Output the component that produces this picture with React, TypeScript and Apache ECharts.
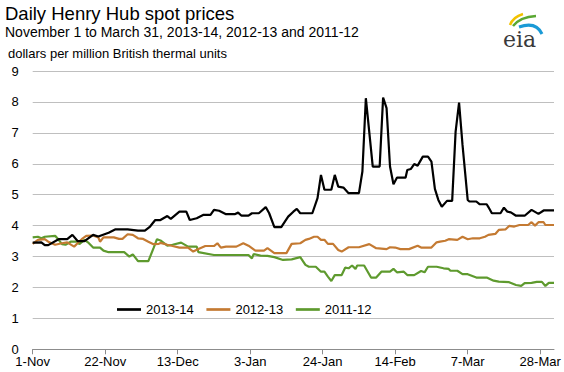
import React, { useEffect, useRef } from "react";
import * as echarts from "echarts";

// Day index since 1-Nov, price in $/MMBtu
const prices201314: [number, number][] = [
  [0, 3.45], [2.5, 3.46], [3.5, 3.37], [4.5, 3.37], [7.5, 3.56], [10, 3.56], [11.5, 3.7], [13, 3.5],
  [15, 3.5], [17.5, 3.7], [19, 3.65], [22, 3.77], [24, 3.88], [27.5, 3.88], [30.5, 3.84], [32.5, 3.84],
  [34, 3.97], [35.5, 4.18], [37, 4.18], [39, 4.31], [40, 4.22], [42.5, 4.45], [44.5, 4.45], [45.5, 4.18],
  [47.5, 4.24], [49.5, 4.35], [51.5, 4.35], [52.5, 4.51], [54, 4.48], [56, 4.37], [58.5, 4.37], [59.5, 4.42],
  [60.5, 4.32], [62.5, 4.32], [63.5, 4.4], [65.5, 4.4], [67.5, 4.6], [68.5, 4.4], [70, 3.95], [72, 3.95],
  [74, 4.29], [75.5, 4.45], [76.5, 4.54], [77.5, 4.4], [81, 4.4], [82.5, 4.89], [83.5, 5.64], [84.5, 5.16],
  [86.5, 5.16], [87.5, 5.64], [88.5, 5.26], [90, 5.23], [91.5, 5.05], [94.5, 5.05], [95.5, 5.75], [96.5, 8.12],
  [98.5, 5.91], [100.5, 5.91], [101.5, 8.14], [102.5, 7.8], [103.5, 5.91], [104.5, 5.34], [105.5, 5.55], [108, 5.55],
  [108.5, 5.8], [109.5, 5.83], [110.5, 5.99], [111.5, 5.94], [113, 6.23], [114.5, 6.23], [115.5, 6.07], [116.5, 5.19],
  [117.5, 4.83], [118.5, 4.61], [120, 4.8], [121.5, 4.8], [122.5, 7.04], [123.5, 7.98], [124.5, 6.61], [126, 4.83],
  [126.5, 4.78], [128.5, 4.78], [129.5, 4.69], [131.5, 4.69], [132, 4.6], [133, 4.4], [135.5, 4.4], [136.5, 4.58],
  [137.5, 4.45], [138.5, 4.43], [140, 4.32], [142.5, 4.32], [144.5, 4.51], [146.5, 4.38], [148, 4.49], [151, 4.49],
];

const prices201213: [number, number][] = [
  [0, 3.41], [1.5, 3.54], [3.5, 3.56], [4.5, 3.48], [6.5, 3.38], [8.5, 3.43], [10, 3.46], [12, 3.32],
  [13, 3.43], [14.5, 3.59], [15.5, 3.67], [17.5, 3.68], [19, 3.62], [19.5, 3.48], [20.5, 3.62], [23.5, 3.62],
  [25, 3.57], [26, 3.57], [27.5, 3.72], [29, 3.7], [30.5, 3.59], [32, 3.57], [33.5, 3.48], [35, 3.4],
  [36.5, 3.41], [37, 3.44], [39, 3.38], [40.5, 3.34], [42.5, 3.29], [45, 3.29], [46.5, 3.16], [48, 3.24],
  [50, 3.34], [52.5, 3.34], [53.5, 3.43], [54.5, 3.29], [56, 3.32], [59, 3.32], [61, 3.43], [62.5, 3.35],
  [64.5, 3.19], [67, 3.19], [68, 3.27], [70, 3.11], [73.5, 3.11], [75, 3.41], [77.5, 3.43], [79, 3.54],
  [80, 3.57], [81.5, 3.64], [82.5, 3.64], [83.5, 3.54], [84.5, 3.54], [85.5, 3.41], [87, 3.41], [88.5, 3.21],
  [89.5, 3.16], [91.5, 3.3], [94.5, 3.3], [97.5, 3.4], [99.5, 3.27], [102.5, 3.24], [103.5, 3.3], [105, 3.29],
  [106.5, 3.24], [109, 3.24], [111.5, 3.35], [112.5, 3.29], [115.5, 3.29], [117, 3.46], [118, 3.48], [119.5, 3.51],
  [120.5, 3.56], [123, 3.54], [124.5, 3.64], [126, 3.56], [127.5, 3.59], [129.5, 3.59], [131, 3.64], [132, 3.7],
  [134, 3.73], [135, 3.86], [137, 3.88], [138, 3.99], [139.5, 3.97], [141, 4.02], [143.5, 4.02], [144.5, 4.11],
  [145.5, 4.0], [146.5, 4.11], [148, 4.11], [148.5, 4.02], [151, 4.02],
];

const prices201112: [number, number][] = [
  [0, 3.62], [1.5, 3.64], [2.5, 3.59], [3.5, 3.64], [6.5, 3.67], [7.5, 3.54], [8.5, 3.4], [9.5, 3.38],
  [11, 3.48], [13, 3.48], [13.5, 3.4], [15, 3.54], [16, 3.46], [17.5, 3.29], [19.5, 3.29], [20.5, 3.19],
  [22, 3.14], [26.5, 3.14], [28, 3.0], [29, 3.07], [30.5, 2.85], [33.5, 2.85], [35, 3.27], [36, 3.56],
  [37, 3.52], [39, 3.35], [40.5, 3.38], [43, 3.45], [45, 3.32], [47.5, 3.32], [48, 3.14], [52.5, 3.05],
  [59, 3.05], [62.5, 3.05], [63.5, 2.94], [64, 3.08], [66, 3.03], [68, 3.02], [70, 2.98], [72.5, 2.89],
  [75, 2.91], [77.5, 2.98], [79, 2.73], [80, 2.67], [82, 2.67], [83.5, 2.51], [84.5, 2.51], [85.5, 2.35],
  [86.5, 2.21], [87.5, 2.4], [89.5, 2.4], [90.5, 2.64], [91.5, 2.62], [92.5, 2.71], [93.5, 2.6], [94, 2.71],
  [96, 2.71], [98, 2.32], [99.5, 2.32], [101, 2.51], [103.5, 2.51], [104.5, 2.6], [105.5, 2.49], [107.5, 2.51],
  [108.5, 2.4], [110.5, 2.4], [112.5, 2.53], [113.5, 2.49], [114.5, 2.67], [117, 2.67], [119, 2.62], [120.5, 2.6],
  [121, 2.54], [123, 2.54], [124.5, 2.43], [126, 2.43], [128.5, 2.32], [131.5, 2.32], [133.5, 2.22], [135, 2.19],
  [138, 2.17], [140, 2.08], [141.5, 2.05], [142.5, 2.14], [144.5, 2.15], [146, 2.18], [147.5, 2.18], [148.5, 2.05],
  [149.5, 2.15], [151, 2.15],
];

const seriesNames = ["2013-14", "2012-13", "2011-12"];
const seriesColors = ["#000000", "#c47a32", "#5e9a2e"];
const xTickLabels = ["1-Nov", "22-Nov", "13-Dec", "3-Jan", "24-Jan", "14-Feb", "7-Mar", "28-Mar"];
const xTickStep = 21;
const yTicks = [0, 1, 2, 3, 4, 5, 6, 7, 8, 9];

const FONT = "'Liberation Sans', Arial, sans-serif";

export default function App() {
  const ref = useRef<HTMLDivElement>(null);

  useEffect(() => {
    document.body.style.margin = "0";
    if (!ref.current) return;
    const chart = echarts.init(ref.current, undefined, { renderer: "svg" });
    const tickDays = xTickLabels.map((_, i) => i * xTickStep);
    const allData = [prices201314, prices201213, prices201112];

    chart.setOption({
      animation: false,
      backgroundColor: "#ffffff",
      grid: { left: 32.7, right: 10, top: 71, bottom: 22.7 },
      xAxis: {
        type: "value",
        min: 0,
        max: 151,
        interval: xTickStep,
        axisLine: { show: true, lineStyle: { color: "#8c8c8c", width: 1 } },
        axisTick: { show: true, length: 5, customValues: tickDays, lineStyle: { color: "#8c8c8c" } },
        axisLabel: {
          customValues: tickDays,
          formatter: (v: number) => xTickLabels[Math.round(v / xTickStep)] ?? "",
          fontSize: 13,
          fontFamily: FONT,
          color: "#000",
          margin: 6,
        },
        splitLine: { show: false },
      },
      yAxis: {
        type: "value",
        min: yTicks[0],
        max: yTicks[yTicks.length - 1],
        interval: 1,
        axisLine: { show: false },
        axisTick: { show: false },
        axisLabel: { fontSize: 13, fontFamily: FONT, color: "#000", margin: 14 },
        splitLine: { lineStyle: { color: "#bfbfbf", width: 1 } },
      },
      legend: {
        left: 112,
        top: 298,
        icon: "rect",
        itemWidth: 24,
        itemHeight: 2.7,
        itemGap: 12.7,
        selectedMode: false,
        textStyle: { fontSize: 13, fontFamily: FONT, color: "#000" },
        data: seriesNames,
      },
      series: seriesNames.map((name, i) => ({
        name,
        type: "line",
        data: allData[i],
        showSymbol: false,
        symbol: "none",
        color: seriesColors[i],
        lineStyle: { width: 2.2, color: seriesColors[i] },
        z: 10 - i,
      })),
      graphic: [
        {
          type: "text",
          left: 5,
          top: 4,
          style: { text: "Daily Henry Hub spot prices", font: `18.5px ${FONT}`, fill: "#000" },
        },
        {
          type: "text",
          left: 5,
          top: 25,
          style: { text: "November 1 to March 31, 2013-14, 2012-13 and 2011-12", font: `14px ${FONT}`, fill: "#000" },
        },
        {
          type: "text",
          left: 8,
          top: 47,
          style: { text: "dollars per million British thermal units", font: `13px ${FONT}`, fill: "#000" },
        },
        {
          type: "group",
          children: [
            { type: "bezierCurve", shape: { x1: 510, y1: 25, cpx1: 513, cpy1: 17, x2: 523, y2: 14 }, style: { stroke: "#f2c200", lineWidth: 2.5, fill: "none" } },
            { type: "bezierCurve", shape: { x1: 513, y1: 26, cpx1: 520, cpy1: 17, x2: 536, y2: 16 }, style: { stroke: "#5aa832", lineWidth: 2.5, fill: "none" } },
            { type: "bezierCurve", shape: { x1: 519, y1: 27, cpx1: 536, cpy1: 21, x2: 542, y2: 34 }, style: { stroke: "#1a9ad6", lineWidth: 3, fill: "none" } },
            { type: "text", x: 503, y: 28, style: { text: "eia", font: "22px 'DejaVu Serif', serif", fill: "#3a3a3a" } },
          ],
        },
      ],
    });
    return () => chart.dispose();
  }, []);

  return <div ref={ref} style={{ width: 564, height: 372 }} />;
}
